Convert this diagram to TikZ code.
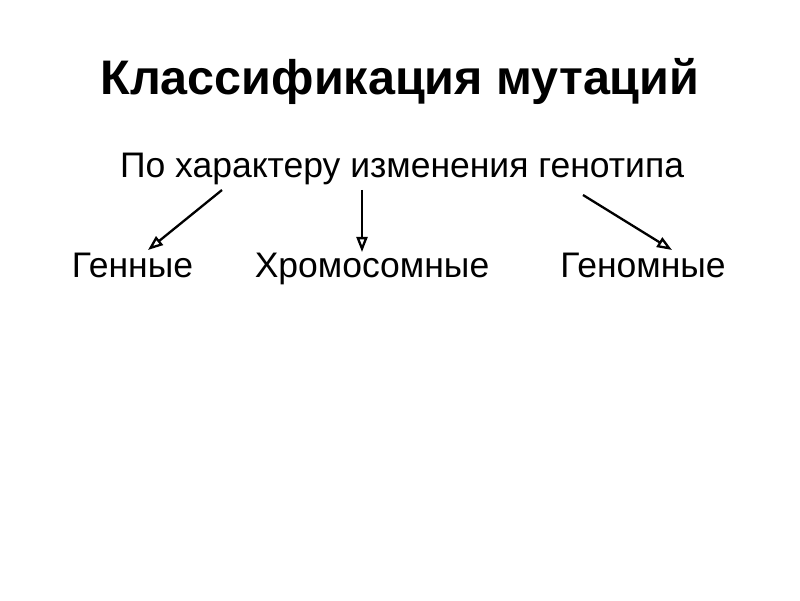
\documentclass[tikz,border=0pt]{standalone}
\usepackage{fontspec}
\setmainfont{Liberation Sans}
\usetikzlibrary{arrows.meta,positioning}
\tikzset{
  ttl/.style={font=\fontsize{48.5}{56}\selectfont\bfseries,anchor=base},
  txt/.style={font=\fontsize{35.5}{42}\selectfont,anchor=base},
  arr/.style={-{Triangle[open,length=15pt,width=11pt]},line width=2.3pt}
}

\begin{document}
\begin{tikzpicture}[x=1pt,y=1pt]
  \useasboundingbox (0,0) rectangle (800,600);
  \node[ttl] (title) at (400,505) {Классификация мутаций};
  \node[txt] (sub) at (402,422) {По характеру изменения генотипа};
  \node[txt] (gen) at (132.5,322) {Генные};
  \node[txt] (chrom) at (372,322) {Хромосомные};
  \node[txt] (genom) at (643,322) {Геномные};
  % arrows
  \coordinate (s1) at (222,410);
  \coordinate (s2) at (362,410);
  \coordinate (s3) at (583,405);
  \coordinate (e1) at (148,350);
  \coordinate (e2) at (362,348);
  \coordinate (e3) at (672,350);
  \draw[arr] (s1) -- (e1);
  \draw[arr] (s2) -- (e2);
  \draw[arr] (s3) -- (e3);
\end{tikzpicture}
\end{document}
